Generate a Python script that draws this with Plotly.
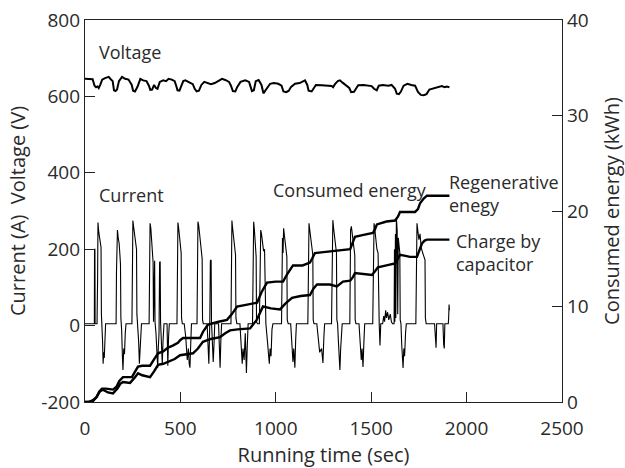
import plotly.graph_objects as go

# ---------------- data ----------------
voltage_t = [0, 30, 40, 50, 58, 66, 72, 80, 90, 105, 124, 135, 145, 152, 160, 168, 178, 194, 210, 228,
             245, 252, 262, 275, 290, 305, 322, 335, 342, 352, 362, 372, 380, 392, 410, 425, 438, 455, 470, 478,
             485, 495, 505, 515, 526, 545, 565, 575, 585, 597, 610, 625, 640, 660, 680, 700, 718, 735, 755, 765,
             775, 788, 798, 815, 840, 860, 875, 885, 895, 910, 925, 935, 945, 955, 970, 990, 1013, 1030, 1040, 1055,
             1068, 1080, 1101, 1125, 1140, 1153, 1165, 1172, 1188, 1198, 1210, 1240, 1265, 1293, 1300, 1310, 1325, 1336, 1350, 1370,
             1385, 1395, 1410, 1420, 1432, 1460, 1480, 1502, 1515, 1529, 1540, 1560, 1590, 1607, 1625, 1634, 1645, 1655, 1670, 1690,
             1710, 1730, 1745, 1760, 1775, 1790, 1805, 1820, 1835, 1850, 1870, 1885, 1895, 1910]
voltage_v = [646, 646, 645, 628, 624, 626, 622, 630, 644, 648, 651, 645, 640, 616, 614, 618, 640, 651, 646, 644,
             630, 615, 613, 625, 646, 642, 640, 628, 617, 618, 630, 622, 620, 638, 642, 640, 646, 644, 640, 628,
             616, 615, 628, 640, 642, 638, 632, 620, 613, 615, 630, 638, 636, 632, 635, 640, 646, 643, 638, 628,
             614, 613, 625, 638, 642, 638, 614, 616, 640, 643, 630, 608, 615, 622, 633, 635, 633, 628, 613, 611,
             615, 625, 633, 635, 638, 642, 630, 615, 613, 620, 630, 629, 628, 627, 624, 632, 640, 642, 636, 628,
             622, 611, 612, 620, 629, 630, 628, 627, 620, 616, 628, 630, 628, 630, 620, 607, 606, 612, 628, 633,
             630, 628, 612, 604, 603, 606, 618, 620, 624, 624, 627, 624, 626, 624]

current_pts = [
    (0, 5), (49, 5), (50, 200), (52, 200), (53, 5), (63, 5),
    (66, 120), (68, 270), (71, 250), (75, 235), (80, 215), (84, 205), (86, 30), (89, 5), (92, -40), (95, -100),
    (98, -70), (101, -85), (104, -20), (108, 5), (160, 5),
    (163, 5), (165, 140), (167, 245), (170, 250), (174, 230), (179, 215), (183, 185), (186, 160), (188, 20),
    (192, -10), (196, -80), (199, -116), (203, -60), (207, -75), (211, -20), (215, 5), (246, 5),
    (248, 150), (251, 275), (255, 258), (260, 240), (266, 215), (270, 200), (272, 30), (276, 5), (281, -40),
    (285, -100), (289, -70), (293, -25), (296, 5), (336, 5),
    (338, 160), (341, 268), (345, 255), (350, 225), (354, 190), (357, 165), (359, 10), (362, 170), (365, 170),
    (367, 10), (372, -20), (378, -80), (381, -110), (384, -60), (388, -20), (391, 165), (394, 168), (396, 10),
    (401, -60), (405, -100), (409, -40), (414, 5), (430, 5), (434, -105), (438, -30), (442, 5), (482, 5),
    (484, 150), (487, 270), (491, 255), (496, 230), (501, 200), (504, 190), (506, 20), (510, 5), (520, 5),
    (528, -30), (536, -90), (542, -60), (546, -100), (550, -110), (554, -50), (558, 5), (587, 5),
    (589, 160), (592, 272), (596, 262), (602, 235), (608, 205), (614, 175), (616, 15), (620, 5), (640, 5),
    (645, -60), (649, -100), (652, -40), (654, 5), (657, 170), (661, 172), (663, 10), (668, -40), (672, -95),
    (676, -50), (680, 5), (700, 5), (704, -70), (708, -110), (712, -40), (716, 5), (765, 5),
    (767, 170), (770, 275), (773, 258), (778, 235), (784, 205), (789, 185), (791, 20), (796, 5), (812, 5),
    (818, -40), (824, -100), (828, -60), (834, -90), (840, -20), (846, -124), (850, -60), (855, 5), (878, 5),
    (880, 150), (884, 272), (888, 250), (893, 215), (897, 180), (899, 10), (904, 5), (914, 5), (918, 160),
    (921, 250), (925, 240), (930, 215), (936, 195), (941, 200), (944, 10), (948, 5), (956, -40), (962, -90),
    (966, -100), (970, -60), (975, -80), (980, -10), (985, 5), (1030, 5),
    (1032, 140), (1035, 229), (1038, 190), (1041, 255), (1046, 232), (1052, 205), (1058, 180), (1060, 15),
    (1065, 5), (1078, 5), (1084, -50), (1090, -95), (1094, -60), (1100, -110), (1104, -40), (1108, 5), (1168, 5),
    (1170, 170), (1174, 268), (1177, 255), (1182, 230), (1188, 205), (1194, 185), (1196, 15), (1200, 5),
    (1215, 5), (1222, -40), (1230, -70), (1240, -60), (1247, -98), (1252, -30), (1256, 5), (1292, 5),
    (1296, 180), (1299, 276), (1303, 255), (1308, 230), (1314, 205), (1318, 190), (1320, 15), (1324, 5),
    (1328, -40), (1332, -100), (1336, -116), (1340, -60), (1344, -20), (1348, 5), (1388, 5),
    (1389, 160), (1392, 250), (1396, 260), (1400, 245), (1405, 215), (1410, 200), (1414, 185), (1416, 15),
    (1420, 5), (1436, 5), (1442, -40), (1448, -90), (1452, -60), (1457, -108), (1462, -40), (1466, 5), (1508, 5),
    (1511, 170), (1515, 268), (1519, 252), (1524, 225), (1530, 200), (1536, 190), (1538, 15), (1542, 5),
    (1546, -52), (1550, 5), (1560, 5), (1566, 25), (1570, 10), (1576, 40), (1580, 20), (1586, 35), (1592, 15),
    (1600, 30), (1606, 10), (1612, 5), (1620, 5),
    (1622, 200), (1624, 10), (1627, 240), (1629, 20), (1632, 282), (1636, 250), (1639, 30), (1642, 230),
    (1646, 215), (1650, 190), (1652, 15), (1656, 5), (1660, -50), (1664, -100), (1667, -111), (1671, -60),
    (1675, -80), (1680, -20), (1684, 5), (1734, 5),
    (1737, 170), (1740, 268), (1744, 250), (1750, 225), (1756, 240), (1762, 205), (1770, 190), (1778, 180),
    (1782, 172), (1784, 20), (1788, 5), (1832, 5), (1836, -40), (1840, -58), (1843, 5), (1876, 5), (1880, -50),
    (1883, -60), (1886, 5), (1904, 5), (1906, 20), (1908, 55), (1910, 40),
]

consumed_pts = [
    (0, 0), (20, 0), (42, 0.2), (60, 0.5), (75, 1.1), (89, 1.4), (110, 1.4), (147, 1.3), (165, 1.6), (180, 2.2),
    (199, 2.6), (220, 2.6), (246, 2.6), (260, 3.1), (278, 3.7), (300, 3.8), (341, 3.8), (360, 4.4), (383, 5.1),
    (410, 5.3), (435, 5.7), (460, 5.9), (487, 6.2), (500, 6.5), (514, 6.7), (560, 6.7), (603, 6.7), (620, 7.4),
    (645, 8.1), (700, 8.4), (744, 8.6), (770, 9.2), (797, 10.0), (850, 10.2), (902, 10.4), (925, 11.5),
    (954, 12.5), (1000, 12.6), (1038, 12.6), (1060, 13.4), (1090, 14.3), (1140, 14.3), (1179, 14.6),
    (1190, 15.0), (1205, 15.6), (1250, 15.7), (1300, 15.8), (1340, 15.9), (1390, 16.0), (1405, 16.8),
    (1415, 17.3), (1460, 17.5), (1509, 17.7), (1520, 18.1), (1530, 18.6), (1580, 18.9), (1625, 19.0),
    (1640, 19.4), (1651, 19.9), (1700, 19.9), (1730, 19.9), (1745, 20.2), (1756, 20.8), (1775, 21.3),
    (1792, 21.6), (1850, 21.6), (1910, 21.6),
]

capacitor_pts = [
    (0, 0), (20, 0), (42, 0.1), (60, 0.5), (78, 1.1), (94, 1.3), (120, 1.0), (147, 0.9), (170, 1.4), (185, 1.9),
    (199, 2.1), (220, 2.0), (236, 2.0), (258, 2.5), (278, 3.0), (300, 2.8), (341, 2.6), (362, 3.2), (383, 3.9),
    (410, 4.0), (435, 4.2), (470, 4.5), (498, 4.9), (530, 5.0), (566, 5.1), (592, 5.6), (618, 6.3), (660, 6.6),
    (708, 6.8), (735, 7.2), (760, 7.5), (800, 7.6), (865, 7.7), (900, 8.6), (933, 10.0), (975, 9.8),
    (1022, 9.7), (1050, 10.3), (1085, 10.9), (1130, 11.1), (1179, 11.2), (1198, 11.9), (1216, 12.3),
    (1250, 12.3), (1284, 12.3), (1320, 12.1), (1352, 12.6), (1390, 12.7), (1405, 13.1), (1415, 13.5),
    (1460, 13.4), (1504, 13.3), (1520, 13.7), (1535, 14.1), (1580, 14.3), (1625, 14.5), (1640, 15.0),
    (1651, 15.4), (1680, 15.3), (1703, 15.2), (1740, 15.2), (1755, 15.9), (1766, 16.6), (1780, 16.9),
    (1792, 17.0), (1850, 17.0), (1910, 17.0),
]

x_ticks = [0, 500, 1000, 1500, 2000, 2500]
y_ticks = [-200, 0, 200, 400, 600, 800]
y_ticktext = ["-200", "0", "200", "400", "600", "800"]
y2_ticks = [0, 10, 20, 30, 40]

# ---------------- figure ----------------
FONT = "Open Sans"
TXT = "#2a2a2a"
fig = go.Figure()

cur_t, cur_i = zip(*current_pts)
con_t, con_e = zip(*consumed_pts)
cap_t, cap_e = zip(*capacitor_pts)

fig.add_trace(go.Scatter(x=cur_t, y=cur_i, mode="lines", line=dict(color="black", width=1.1),
                         showlegend=False, hoverinfo="skip"))
fig.add_trace(go.Scatter(x=voltage_t, y=voltage_v, mode="lines", line=dict(color="black", width=2),
                         showlegend=False, hoverinfo="skip"))
fig.add_trace(go.Scatter(x=con_t, y=con_e, mode="lines", line=dict(color="black", width=2.4),
                         yaxis="y2", showlegend=False, hoverinfo="skip"))
fig.add_trace(go.Scatter(x=cap_t, y=cap_e, mode="lines", line=dict(color="black", width=2.4),
                         yaxis="y2", showlegend=False, hoverinfo="skip"))

axis_common = dict(showgrid=False, zeroline=False, showline=True, linecolor="#222", linewidth=1.3,
                   ticks="inside", ticklen=10, tickwidth=1.2, tickcolor="#222", automargin=False,
                   tickfont=dict(family=FONT, size=19, color=TXT))
title_font = dict(family=FONT, size=20, color=TXT)

fig.update_layout(
    width=625, height=468,
    margin=dict(l=85, r=63, t=20, b=66),
    paper_bgcolor="white", plot_bgcolor="white",
    font=dict(family=FONT, size=18, color=TXT),
    xaxis=dict(range=[0, 2500], tickmode="array", tickvals=x_ticks, mirror=True, ticklabelstandoff=9,
               title=dict(text="Running time (sec)", font=title_font, standoff=0),
               **axis_common),
    yaxis=dict(range=[-200, 800], tickmode="array", tickvals=y_ticks, ticktext=y_ticktext,
               title=dict(text="Current (A)\u00a0 Voltage (V)", font=title_font, standoff=10),
               **axis_common),
    yaxis2=dict(range=[0, 40], tickmode="array", tickvals=y2_ticks, overlaying="y", side="right",
                title=dict(text="Consumed energy (kWh)", font=title_font, standoff=18),
                **axis_common),
)

ann_font = dict(family=FONT, size=18, color=TXT)
labels = [
    ("Voltage", 63, 715),
    ("Current", 63, 341),
    ("Consumed energy", 975, 354),
    ("Regenerative<br>enegy", 1897, 347),
    ("Charge by<br>capacitor", 1934, 192),
]
for text, lx, ly in labels:
    fig.add_annotation(text=text, x=lx, y=ly, xref="x", yref="y", xanchor="left", yanchor="middle",
                       showarrow=False, align="left", font=ann_font)

fig.write_html("out.html")
